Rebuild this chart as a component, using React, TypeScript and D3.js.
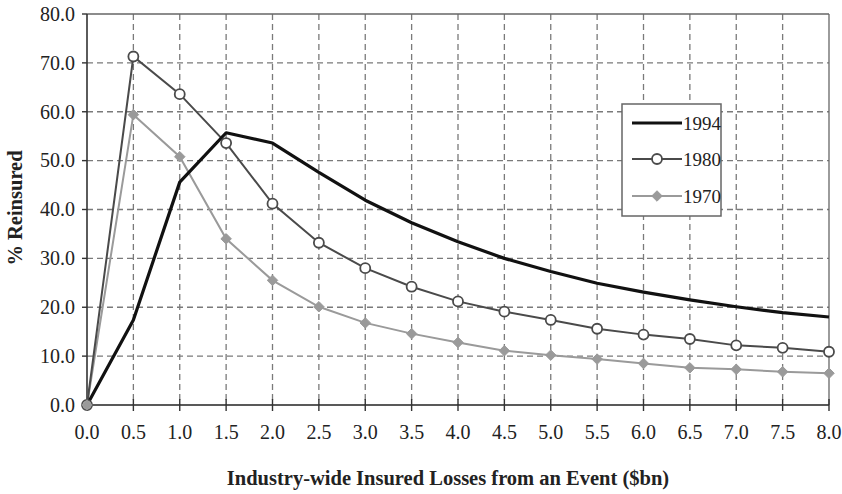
import React from "react";
import * as d3 from "d3";

const xs = [0, 0.5, 1.0, 1.5, 2.0, 2.5, 3.0, 3.5, 4.0, 4.5, 5.0, 5.5, 6.0, 6.5, 7.0, 7.5, 8.0];
const s1994 = [0, 17.4, 45.6, 55.7, 53.6, 47.6, 41.9, 37.3, 33.4, 30.0, 27.3, 24.9, 23.1, 21.5, 20.1, 18.9, 18.0];
const s1980 = [0, 71.3, 63.6, 53.6, 41.2, 33.2, 28.0, 24.2, 21.2, 19.1, 17.4, 15.6, 14.4, 13.5, 12.2, 11.7, 10.9];
const s1970 = [0, 59.4, 50.8, 34.0, 25.5, 20.1, 16.8, 14.6, 12.8, 11.1, 10.2, 9.4, 8.5, 7.6, 7.3, 6.8, 6.5];
const xTicks = [0, 0.5, 1, 1.5, 2, 2.5, 3, 3.5, 4, 4.5, 5, 5.5, 6, 6.5, 7, 7.5, 8];
const yTicks = [0, 10, 20, 30, 40, 50, 60, 70, 80];
const seriesNames = ["1994", "1980", "1970"];

export default function App() {
  const W = 842, H = 494;
  const x = d3.scaleLinear().domain([0, 8]).range([87, 829]);
  const y = d3.scaleLinear().domain([0, 80]).range([405, 14]);
  const line = (vals: number[]) =>
    d3.line<number>().x((_, i) => x(xs[i])).y((v) => y(v))(vals) || "";
  const font = "'Liberation Serif', 'Times New Roman', serif";
  const diamond = d3.symbol().type(d3.symbolDiamond2).size(70)() || "";
  const gridColor = "#7a7a7a";
  const c1980 = "#4a4a4a";
  const c1970 = "#9a9a9a";

  const lx0 = 632, lx1 = 682;
  const legendY = [123, 159, 196];

  return (
    <svg width={W} height={H} style={{ position: "absolute", left: 0, top: 0, background: "#fff" }} fontFamily={font}>
      {/* gridlines */}
      {yTicks.filter((t) => t > 0 && t < 80).map((t) => (
        <line key={"gy" + t} x1={x(0)} x2={x(8)} y1={y(t)} y2={y(t)} stroke={gridColor} strokeWidth={1.3} strokeDasharray="6,4" />
      ))}
      {xTicks.filter((t) => t > 0 && t < 8).map((t) => (
        <line key={"gx" + t} x1={x(t)} x2={x(t)} y1={y(80)} y2={y(0)} stroke={gridColor} strokeWidth={1.3} strokeDasharray="6,4" />
      ))}
      {/* frame */}
      <line x1={x(0)} x2={x(8)} y1={y(80)} y2={y(80)} stroke="#666" strokeWidth={1.3} />
      <line x1={x(8)} x2={x(8)} y1={y(80)} y2={y(0)} stroke="#666" strokeWidth={1.3} />
      <line x1={x(0)} x2={x(0)} y1={y(80)} y2={y(0)} stroke="#333" strokeWidth={1.6} />
      <line x1={x(0)} x2={x(8)} y1={y(0)} y2={y(0)} stroke="#222" strokeWidth={1.6} />
      {/* ticks */}
      {yTicks.map((t) => (
        <g key={"yt" + t}>
          <line x1={x(0) - 5} x2={x(0)} y1={y(t)} y2={y(t)} stroke="#333" strokeWidth={1.4} />
          <text x={75} y={y(t)} dy="0.34em" textAnchor="end" fontSize={20} fill="#222">{t.toFixed(1)}</text>
        </g>
      ))}
      {xTicks.map((t) => (
        <g key={"xt" + t}>
          <line x1={x(t)} x2={x(t)} y1={y(0) - 6} y2={y(0) + 6} stroke="#333" strokeWidth={1.4} />
          <text x={x(t)} y={439} textAnchor="middle" fontSize={20} fill="#222">{t.toFixed(1)}</text>
        </g>
      ))}
      {/* axis titles */}
      <text transform="translate(22,208) rotate(-90)" textAnchor="middle" fontSize={20.5} fontWeight="bold" fill="#222">% Reinsured</text>
      <text x={448} y={485} textAnchor="middle" fontSize={20.5} fontWeight="bold" fill="#222">Industry-wide Insured Losses from an Event ($bn)</text>
      {/* series */}
      <path d={line(s1970)} fill="none" stroke={c1970} strokeWidth={2} />
      <path d={line(s1980)} fill="none" stroke={c1980} strokeWidth={2} />
      <path d={line(s1994)} fill="none" stroke="#111" strokeWidth={3.2} strokeLinejoin="round" />
      {s1980.map((v, i) => (
        <circle key={"c" + i} cx={x(xs[i])} cy={y(v)} r={5} fill="#fff" stroke={c1980} strokeWidth={1.8} />
      ))}
      {s1970.map((v, i) => (
        <path key={"d" + i} d={diamond} transform={`translate(${x(xs[i])},${y(v)})`} fill={c1970} stroke={c1970} strokeWidth={1} />
      ))}
      {/* legend */}
      <rect x={622} y={104} width={99} height={112} fill="#fff" stroke="#666" strokeWidth={1.5} />
      <line x1={lx0} x2={lx1} y1={legendY[0]} y2={legendY[0]} stroke="#111" strokeWidth={3.2} />
      <line x1={lx0} x2={lx1} y1={legendY[1]} y2={legendY[1]} stroke={c1980} strokeWidth={2} />
      <circle cx={(lx0 + lx1) / 2} cy={legendY[1]} r={5} fill="#fff" stroke={c1980} strokeWidth={1.8} />
      <line x1={lx0} x2={lx1} y1={legendY[2]} y2={legendY[2]} stroke={c1970} strokeWidth={2} />
      <path d={diamond} transform={`translate(${(lx0 + lx1) / 2},${legendY[2]})`} fill={c1970} stroke={c1970} />
      {seriesNames.map((n, i) => (
        <text key={n} x={683} y={legendY[i]} dy="0.35em" fontSize={19} fill="#222">{n}</text>
      ))}
    </svg>
  );
}
